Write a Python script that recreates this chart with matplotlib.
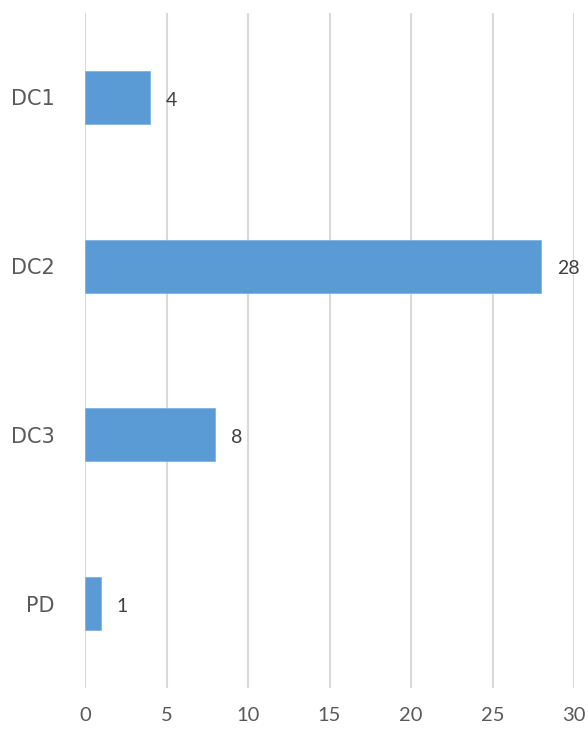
import matplotlib
matplotlib.use("Agg")
import matplotlib.pyplot as plt

categories = ["DC1", "DC2", "DC3", "PD"]
values = [4, 28, 8, 1]
xticks = [0, 5, 10, 15, 20, 25, 30]

fig = plt.figure(figsize=(5.88, 7.29), dpi=100)
ax = fig.add_axes([85/588, 1-688/729, (574-85)/588, (688-13)/729])

ypos = list(range(len(categories)))
ax.barh(ypos, values, height=0.314, color="#5B9BD5", edgecolor="#7FB2E0", linewidth=0.6, zorder=3)
ax.set_ylim(len(categories) - 0.5, -0.5)
ax.set_xlim(0, 30)
ax.set_xticks(xticks)
ax.set_xticklabels([str(t) for t in xticks], fontfamily="Lato", fontsize=14.5, color="#595959")
ax.tick_params(axis="x", length=0, pad=14)
ax.set_yticks(ypos)
ax.set_yticklabels(categories, fontfamily="DejaVu Sans", fontsize=15, color="#595959")
ax.tick_params(axis="y", length=0, pad=22)
ax.grid(axis="x", color="#D9D9D9", linewidth=1.5, zorder=0)
for s in ax.spines.values():
    s.set_visible(False)

for y, v in zip(ypos, values):
    ax.annotate(str(v), xy=(v, y), xytext=(11, -2), textcoords="offset points",
                va="center", ha="left", fontfamily="Lato", fontsize=14, color="#404040")

fig.savefig("out.png", dpi=100)
